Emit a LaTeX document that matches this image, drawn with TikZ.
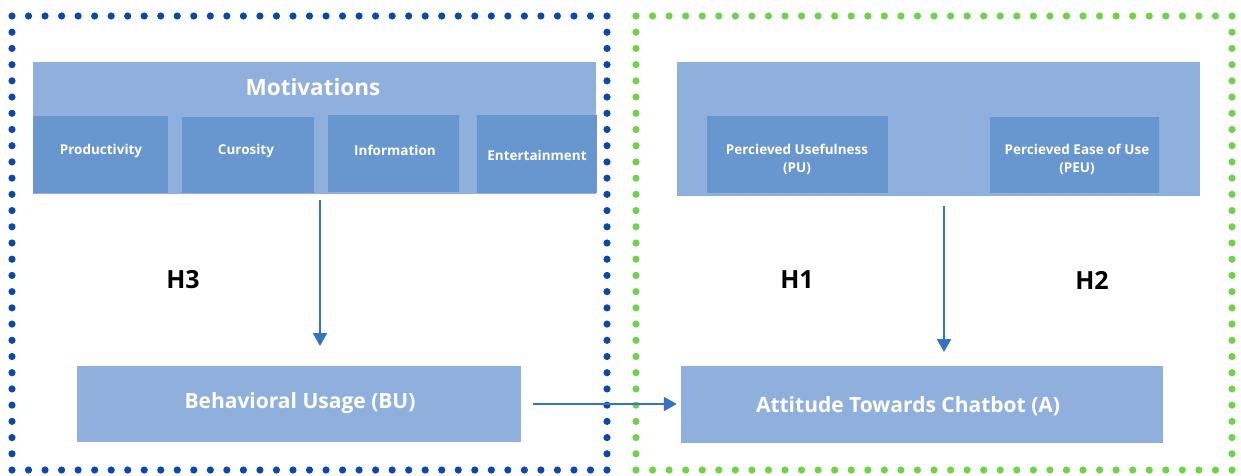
\documentclass[tikz,border=0pt]{standalone}
\usepackage{fontspec}
\setmainfont{Open Sans}
\usetikzlibrary{arrows.meta}
\definecolor{lightbox}{RGB}{143,176,220}
\definecolor{darkbox}{RGB}{104,150,207}
\definecolor{arrowblue}{RGB}{55,115,195}
\definecolor{dotblue}{RGB}{12,72,170}
\definecolor{dotgreen}{RGB}{112,210,72}
\tikzset{
  outerbox/.style={fill=lightbox, draw=none, inner sep=0pt},
  subbox/.style={fill=darkbox, draw=none, inner sep=0pt, text=white, font=\fontsize{13.5}{18}\selectfont\bfseries, align=center},
  mainbox/.style={fill=lightbox, draw=none, inner sep=0pt, text=white, font=\fontsize{21}{25}\selectfont\bfseries},
  hlabel/.style={font=\fontsize{25}{30}\selectfont\bfseries, text=black},
  flow/.style={draw=arrowblue, line width=2.3pt, -{Triangle[width=14pt,length=13pt]}},
}
\begin{document}
\begin{tikzpicture}[x=1pt,y=-1pt]
\useasboundingbox (0,0) rectangle (1241,475);
% dotted frames
\foreach \i in {0,...,36} {
  \fill[dotblue] (12+\i*16.528,16) circle (3.6pt);
  \fill[dotblue] (12+\i*16.528,470) circle (3.6pt);
  \fill[dotgreen] (636+\i*16.556,16) circle (3.6pt);
  \fill[dotgreen] (636+\i*16.556,470) circle (3.6pt);
}
\foreach \j in {1,...,27} {
  \fill[dotblue] (12,16+\j*16.214) circle (3.6pt);
  \fill[dotblue] (607,16+\j*16.214) circle (3.6pt);
  \fill[dotgreen] (636,16+\j*16.214) circle (3.6pt);
  \fill[dotgreen] (1232,16+\j*16.214) circle (3.6pt);
}
% left group
\node[outerbox, minimum width=563pt, minimum height=132pt] (mot) at (314.5,128) {};
\node[text=white, font=\fontsize{22.5}{27}\selectfont\bfseries] (mottitle) at (313,87) {Motivations};
\node[subbox, minimum width=135pt, minimum height=77pt] (prod) at (100.5,154) {};
\node[subbox, minimum width=132pt, minimum height=76pt] (cur) at (247.5,155) {};
\node[subbox, minimum width=131pt, minimum height=77pt] (info) at (393.5,153.5) {};
\node[subbox, minimum width=120pt, minimum height=78pt] (ent) at (536.5,154) {};
\node[subbox, fill=none] (prodt) at (101,151) {Productivity};
\node[subbox, fill=none] (curt) at (246,151) {Curosity};
\node[subbox, fill=none] (infot) at (395,150) {Information};
\node[subbox, fill=none] (entt) at (537,155) {Entertainment};
% right group
\node[outerbox, minimum width=523pt, minimum height=134pt] (tam) at (938.5,129) {};
\node[subbox, minimum width=181pt, minimum height=77pt] (pu) at (797.5,154.5) {};
\node[subbox, minimum width=169pt, minimum height=76pt] (peu) at (1074.5,155) {};
\node[subbox, fill=none] (put) at (797,159) {Percieved Usefulness\\(PU)};
\node[subbox, fill=none] (peut) at (1077,159) {Percieved Ease of Use\\(PEU)};
% bottom boxes
\node[mainbox, minimum width=444pt, minimum height=76pt] (bu) at (299,404) {};
\node[mainbox, minimum width=482pt, minimum height=77pt] (att) at (922,404.5) {};
\node[mainbox, fill=none] (but) at (300,403) {Behavioral Usage (BU)};
\node[mainbox, fill=none] (attt) at (908,406) {Attitude Towards Chatbot (A)};
% hypotheses
\node[hlabel] (h3) at (183,280) {H3};
\node[hlabel] (h1) at (797,280) {H1};
\node[hlabel] (h2) at (1092,280) {H2};
% connectors
\coordinate (a1s) at (320,200);
\coordinate (a1e) at (320,346);
\coordinate (a3s) at (944,206);
\coordinate (a3e) at (944,352);
\coordinate (a2s) at (533,404);
\draw[flow] (a1s) -- (a1e);
\draw[flow] (a3s) -- (a3e);
\draw[flow, shorten >=4pt] (a2s) -- (att.west |- a2s);
\end{tikzpicture}
\end{document}
